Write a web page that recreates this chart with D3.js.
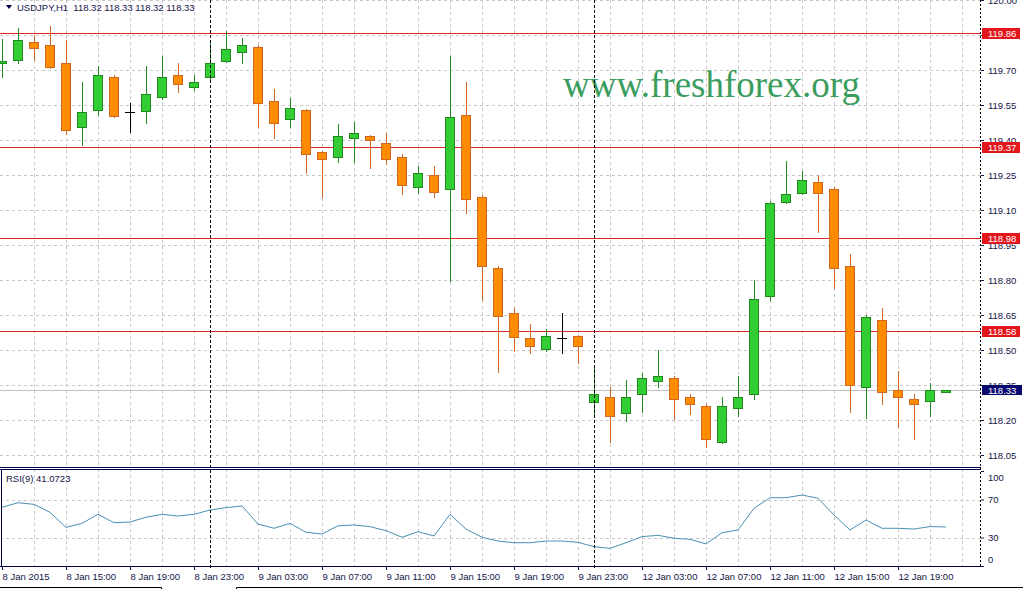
<!DOCTYPE html>
<html><head><meta charset="utf-8">
<script src="https://cdn.jsdelivr.net/npm/d3@7"></script>
<style>
html,body{margin:0;padding:0;background:#fff;}
svg{display:block;}
text{font-family:"Liberation Sans",Arial,sans-serif;}
text.wm{font-family:"Liberation Serif","Times New Roman",serif;}
</style></head><body>
<svg id="c" width="1023" height="589"></svg>
<script>
// ---------- DATA ----------
const times = [
 "8 Jan 11:00","8 Jan 12:00","8 Jan 13:00","8 Jan 14:00","8 Jan 15:00","8 Jan 16:00","8 Jan 17:00","8 Jan 18:00",
 "8 Jan 19:00","8 Jan 20:00","8 Jan 21:00","8 Jan 22:00","8 Jan 23:00",
 "9 Jan 00:00","9 Jan 01:00","9 Jan 02:00","9 Jan 03:00","9 Jan 04:00","9 Jan 05:00","9 Jan 06:00","9 Jan 07:00",
 "9 Jan 08:00","9 Jan 09:00","9 Jan 10:00","9 Jan 11:00","9 Jan 12:00","9 Jan 13:00","9 Jan 14:00","9 Jan 15:00",
 "9 Jan 16:00","9 Jan 17:00","9 Jan 18:00","9 Jan 19:00","9 Jan 20:00","9 Jan 21:00","9 Jan 22:00","9 Jan 23:00",
 "12 Jan 00:00","12 Jan 01:00","12 Jan 02:00","12 Jan 03:00","12 Jan 04:00","12 Jan 05:00","12 Jan 06:00","12 Jan 07:00",
 "12 Jan 08:00","12 Jan 09:00","12 Jan 10:00","12 Jan 11:00","12 Jan 12:00","12 Jan 13:00","12 Jan 14:00","12 Jan 15:00",
 "12 Jan 16:00","12 Jan 17:00","12 Jan 18:00","12 Jan 19:00","12 Jan 20:00","12 Jan 21:00","12 Jan 22:00"
];
const open = [119.730,119.743,119.820,119.807,119.730,119.456,119.529,119.670,119.520,119.524,119.584,119.679,119.627,
 119.670,119.739,119.777,119.799,119.567,119.490,119.529,119.349,119.327,119.409,119.417,119.387,119.327,119.199,119.250,
 119.190,119.507,119.156,118.851,118.659,118.551,118.504,118.551,118.560,
 118.277,118.299,118.230,118.311,118.367,118.380,118.299,118.260,118.106,118.251,118.311,118.731,119.134,119.173,119.220,
 119.190,118.860,118.341,118.629,118.329,118.290,118.281,118.320];
const high = [119.833,119.880,119.850,119.889,119.829,119.649,119.717,119.679,119.559,119.717,119.760,119.730,119.679,
 119.824,119.867,119.837,119.807,119.619,119.580,119.533,119.353,119.469,119.477,119.421,119.430,119.340,119.289,119.289,
 119.760,119.649,119.164,118.860,118.680,118.611,118.590,118.659,118.564,
 118.436,118.341,118.371,118.401,118.500,118.389,118.311,118.269,118.299,118.389,118.800,119.139,119.310,119.267,119.250,
 119.199,118.911,118.650,118.680,118.410,118.311,118.359,118.330];
const low = [119.670,119.730,119.743,119.710,119.426,119.379,119.507,119.499,119.434,119.473,119.576,119.606,119.614,
 119.661,119.734,119.730,119.456,119.409,119.456,119.259,119.156,119.306,119.306,119.280,119.297,119.169,119.173,119.156,
 118.796,119.087,118.714,118.406,118.496,118.487,118.496,118.487,118.444,
 118.226,118.106,118.196,118.234,118.341,118.204,118.226,118.084,118.101,118.217,118.290,118.714,119.130,119.169,119.006,
 118.766,118.234,118.209,118.269,118.170,118.119,118.217,118.320];
const close = [119.739,119.829,119.794,119.713,119.443,119.520,119.679,119.503,119.520,119.597,119.670,119.640,119.649,
 119.730,119.790,119.807,119.559,119.473,119.537,119.340,119.319,119.417,119.430,119.400,119.319,119.207,119.259,119.177,
 119.499,119.147,118.860,118.646,118.556,118.517,118.560,118.551,118.517,
 118.311,118.217,118.299,118.380,118.389,118.290,118.269,118.119,118.260,118.299,118.719,119.130,119.169,119.229,119.173,
 118.851,118.350,118.641,118.320,118.299,118.269,118.329,118.330];
const rsi = [61.8,66.6,64.9,56.5,40.7,44.9,54.4,45.6,46.3,51.3,54.4,52.6,54.4,
 58.9,61.4,63.2,44.2,39.7,44.9,35.5,33.7,42.3,43.2,41.4,37.2,30.2,36.1,31.6,
 54.4,38.9,30.2,26.3,24.5,24.5,26.3,26.3,24.9,
 20.3,18.6,24.5,30.9,32.3,29.2,28.1,23.2,35.0,37.9,60.7,71.9,71.9,74.7,71.3,
 53.7,37.9,48.4,39.7,39.7,38.9,41.5,41.0723];
const priceTicks = [118.05,118.20,118.35,118.50,118.65,118.80,118.95,119.10,119.25,119.40,119.55,119.70,119.85,120.00];
const levels = [119.86,119.37,118.98,118.58];
const bid = 118.33;
const rsiTicks = [100,70,30,0];
const rsiGrid = [70,30];
const timeTickBars = ["8 Jan 11:00","8 Jan 15:00","8 Jan 19:00","8 Jan 23:00","9 Jan 03:00","9 Jan 07:00","9 Jan 11:00",
 "9 Jan 15:00","9 Jan 19:00","9 Jan 23:00","12 Jan 03:00","12 Jan 07:00","12 Jan 11:00","12 Jan 15:00","12 Jan 19:00"];
const timeTickLabels = ["8 Jan 2015","8 Jan 15:00","8 Jan 19:00","8 Jan 23:00","9 Jan 03:00","9 Jan 07:00","9 Jan 11:00",
 "9 Jan 15:00","9 Jan 19:00","9 Jan 23:00","12 Jan 03:00","12 Jan 07:00","12 Jan 11:00","12 Jan 15:00","12 Jan 19:00"];
const separators = ["9 Jan 00:00","12 Jan 00:00"];
const title = "USDJPY,H1  118.32 118.33 118.32 118.33";
const rsiTitle = "RSI(9) 41.0723";
const watermark = "www.freshforex.org";

// ---------- LAYOUT ----------
const svg = d3.select("#c");
const W = 1023, plotR = 981, mainBottom = 467, rsiTop = 469, rsiBottom = 566;
const xi = d3.scaleLinear().domain([0, times.length - 1]).range([2, 2 + 16 * (times.length - 1)]);
const xb = t => xi(times.indexOf(t));
const y = d3.scaleLinear().domain([118.05, 120.00]).range([455, 0]);
const yr = d3.scaleLinear().domain([0, 100]).range([566, 471]);
const txtCol = "#141446", gridCol = "#c8c8c8", navy = "#00004a";

svg.append("rect").attr("width", W).attr("height", 589).attr("fill", "#fff");

svg.append("clipPath").attr("id", "mainClip").append("rect")
  .attr("x", 0).attr("y", 0).attr("width", plotR).attr("height", mainBottom);
svg.append("clipPath").attr("id", "rsiClip").append("rect")
  .attr("x", 2).attr("y", rsiTop + 1).attr("width", plotR - 2).attr("height", rsiBottom - rsiTop - 1);

const main = svg.append("g").attr("clip-path", "url(#mainClip)");
const sub = svg.append("g").attr("clip-path", "url(#rsiClip)");

// vertical grid every 2 bars
const vGrid = d3.range(2, times.length + 2, 2);
[[main, 0, mainBottom], [sub, rsiTop, rsiBottom]].forEach(([g, y0, y1]) => {
  g.selectAll(null).data(vGrid).join("line")
    .attr("x1", d => Math.round(xi(d)) + 0.5).attr("x2", d => Math.round(xi(d)) + 0.5)
    .attr("y1", y0).attr("y2", y1)
    .attr("stroke", gridCol).attr("stroke-dasharray", "3,3");
});
main.selectAll(null).data(priceTicks).join("line")
  .attr("x1", 0).attr("x2", plotR)
  .attr("y1", d => Math.round(y(d)) + 0.5).attr("y2", d => Math.round(y(d)) + 0.5)
  .attr("stroke", gridCol).attr("stroke-dasharray", "3,3");
sub.selectAll(null).data(rsiGrid).join("line")
  .attr("x1", 0).attr("x2", plotR)
  .attr("y1", d => Math.round(yr(d)) + 0.5).attr("y2", d => Math.round(yr(d)) + 0.5)
  .attr("stroke", gridCol).attr("stroke-dasharray", "3,3");

// watermark
main.append("text").attr("class", "wm").attr("x", 563).attr("y", 97)
  .attr("font-size", 37).attr("fill", "#3a9d5d").text(watermark);

// bid line
main.append("line").attr("x1", 0).attr("x2", plotR)
  .attr("y1", Math.round(y(bid)) + 0.5).attr("y2", Math.round(y(bid)) + 0.5)
  .attr("stroke", "#c0c0c0");

// level lines
main.selectAll(null).data(levels).join("line")
  .attr("x1", 0).attr("x2", plotR)
  .attr("y1", d => Math.round(y(d)) + 0.5).attr("y2", d => Math.round(y(d)) + 0.5)
  .attr("stroke", "#dd2424");

// candles
const idx = d3.range(times.length);
const cg = main.selectAll(null).data(idx).join("g");
const col = i => close[i] > open[i] ? "bull" : (close[i] < open[i] ? "bear" : "doji");
const strokeC = {bull: "#1f8a1f", bear: "#d2691e", doji: "#000"};
const fillC = {bull: "#32cd32", bear: "#ff8c00", doji: "#000"};
cg.append("line")
  .attr("x1", i => Math.round(xi(i)) + 0.5).attr("x2", i => Math.round(xi(i)) + 0.5)
  .attr("y1", i => Math.round(y(high[i]))).attr("y2", i => Math.round(y(low[i])) + 1)
  .attr("stroke", i => strokeC[col(i)]);
cg.filter(i => col(i) !== "doji").append("rect")
  .attr("x", i => Math.round(xi(i)) - 4.5).attr("width", 9)
  .attr("y", i => Math.round(y(Math.max(open[i], close[i]))) + 0.5)
  .attr("height", i => Math.max(1, Math.round(y(Math.min(open[i], close[i]))) - Math.round(y(Math.max(open[i], close[i])))))
  .attr("fill", i => fillC[col(i)]).attr("stroke", i => strokeC[col(i)]);
cg.filter(i => col(i) === "doji").append("line")
  .attr("x1", i => Math.round(xi(i)) - 5).attr("x2", i => Math.round(xi(i)) + 5)
  .attr("y1", i => Math.round(y(open[i])) + 0.5).attr("y2", i => Math.round(y(open[i])) + 0.5)
  .attr("stroke", "#000");

// RSI line
sub.append("path").datum(idx)
  .attr("d", d3.line().x(i => xi(i)).y(i => yr(rsi[i])))
  .attr("fill", "none").attr("stroke", "#4a90b4").attr("stroke-width", 1);

// day separators
svg.selectAll(null).data(separators).join("line")
  .attr("x1", d => Math.round(xb(d)) + 0.5).attr("x2", d => Math.round(xb(d)) + 0.5)
  .attr("y1", 0).attr("y2", rsiBottom + 3)
  .attr("stroke", "#000").attr("stroke-dasharray", "3,2");

// panel borders
svg.append("line").attr("x1", 0).attr("x2", plotR).attr("y1", mainBottom + 0.5).attr("y2", mainBottom + 0.5).attr("stroke", navy);
svg.append("line").attr("x1", 0).attr("x2", plotR).attr("y1", rsiTop + 0.5).attr("y2", rsiTop + 0.5).attr("stroke", navy);
svg.append("line").attr("x1", 0).attr("x2", plotR).attr("y1", rsiBottom + 0.5).attr("y2", rsiBottom + 0.5).attr("stroke", navy);
svg.append("line").attr("x1", 1.5).attr("x2", 1.5).attr("y1", rsiTop).attr("y2", rsiBottom).attr("stroke", navy);
svg.append("line").attr("x1", plotR - 0.5).attr("x2", plotR - 0.5).attr("y1", 0).attr("y2", rsiBottom + 1)
  .attr("stroke", "#000").attr("stroke-dasharray", "2,2");

// price axis
const pa = svg.append("g").attr("transform", `translate(${plotR},0)`)
  .call(d3.axisRight(y).tickValues(priceTicks).tickFormat(d3.format(".2f")).tickSize(3).tickPadding(4));
pa.select(".domain").remove();
pa.selectAll(".tick line").attr("stroke", txtCol);
pa.selectAll(".tick text").attr("fill", txtCol).attr("font-size", 9.5)
  .attr("font-family", "'Liberation Sans',Arial,sans-serif");

// level labels
const lg = svg.selectAll(null).data(levels).join("g")
  .attr("transform", d => `translate(982,${Math.round(y(d))})`);
lg.append("rect").attr("x", 0).attr("y", -5).attr("width", 38).attr("height", 11).attr("fill", "#e3161c");
lg.append("text").attr("x", 6).attr("y", 4).attr("fill", "#fff").attr("font-size", 9.5).text(d => d3.format(".2f")(d));
const bg = svg.append("g").attr("transform", `translate(982,${Math.round(y(bid))})`);
bg.append("rect").attr("x", 0).attr("y", -5).attr("width", 40).attr("height", 10).attr("fill", "#08086e");
bg.append("text").attr("x", 6).attr("y", 4).attr("fill", "#fff").attr("font-size", 9.5).text(d3.format(".2f")(bid));

// RSI axis
const ra = svg.append("g").attr("transform", `translate(${plotR},0)`)
  .call(d3.axisRight(yr).tickValues(rsiTicks).tickSize(3).tickPadding(4));
ra.select(".domain").remove();
ra.selectAll(".tick line").attr("stroke", txtCol);
ra.selectAll(".tick text").attr("fill", txtCol).attr("font-size", 9.5)
  .attr("font-family", "'Liberation Sans',Arial,sans-serif")
  .attr("dy", d => d === 100 ? "1.0em" : (d === 0 ? "-0.4em" : "0.32em"));

// time axis
const ta = svg.append("g").attr("transform", `translate(0,${rsiBottom})`)
  .call(d3.axisBottom(xi).tickValues(timeTickBars.map(t => times.indexOf(t)))
    .tickFormat((d, i) => timeTickLabels[i]).tickSize(4).tickPadding(3));
ta.select(".domain").remove();
ta.selectAll(".tick line").attr("stroke", txtCol);
ta.selectAll(".tick text").attr("fill", txtCol).attr("font-size", 9.5)
  .attr("text-anchor", "start").attr("font-family", "'Liberation Sans',Arial,sans-serif");

// titles
svg.append("path").attr("d", "M6,5 L12,5 L9,9 Z").attr("fill", navy);
svg.append("text").attr("x", 17).attr("y", 11).attr("fill", txtCol).attr("font-size", 9.5)
  .style("white-space", "pre").text(title);
svg.append("text").attr("x", 6).attr("y", 482).attr("fill", txtCol).attr("font-size", 9.5).text(rsiTitle);

// bottom tab lines
svg.append("path").attr("d", "M0,587.5 H161.5 V589 M236.5,589 V587.5 H1023")
  .attr("fill", "none").attr("stroke", "#000");
</script>
</body></html>
